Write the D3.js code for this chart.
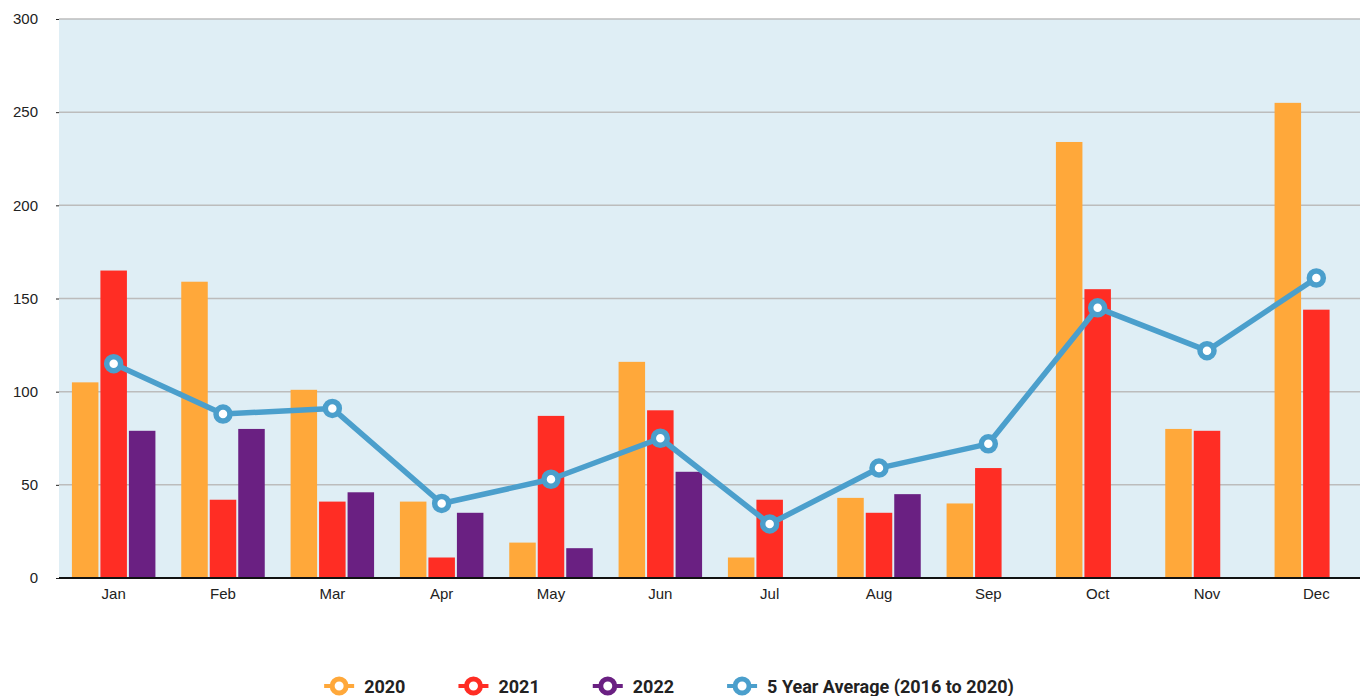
<!DOCTYPE html>
<meta charset="utf-8">
<style>
  body { margin: 0; background: #fff; }
  svg { display: block; font-family: "Liberation Sans", Arial, Helvetica, sans-serif; }
  .legend text { font-family: Roboto, "Noto Sans", sans-serif; font-weight: bold; font-size: 18px; fill: #222; }
</style>
<body>
<svg id="chart" width="1360" height="696"></svg>
<script src="https://d3js.org/d3.v7.min.js"></script>
<script>
// data
var months = ["Jan", "Feb", "Mar", "Apr", "May", "Jun", "Jul", "Aug", "Sep", "Oct", "Nov", "Dec"];
var seriesNames = ["2020", "2021", "2022"];
var values2020 = [105, 159, 101, 41, 19, 116, 11, 43, 40, 234, 80, 255];
var values2021 = [165, 42, 41, 11, 87, 90, 42, 35, 59, 155, 79, 144];
var values2022 = [79, 80, 46, 35, 16, 57, null, 45, null, null, null, null];
var avgName = "5 Year Average (2016 to 2020)";
var avgValues = [115, 88, 91, 40, 53, 75, 29, 59, 72, 145, 122, 161];
var yTicks = [0, 50, 100, 150, 200, 250, 300];

(function () {
  var colors = { "2020": "#ffa83a", "2021": "#ff2d24", "2022": "#6a2082" };
  var lineColor = "#4b9fcc";
  var seriesValues = [values2020, values2021, values2022];

  var svg = d3.select("#chart");
  var W = 1360;
  var mLeft = 59, mTop = 19, mBottom = 578;

  var x = d3.scaleBand().domain(months).range([mLeft, 1371]).padding(0);
  var x1 = d3.scaleBand().domain(seriesNames).range([-41.75, 41.75]).paddingInner(0.07);
  var y = d3.scaleLinear().domain([0, 300]).range([mBottom, mTop]);

  // plot background
  svg.append("rect")
    .attr("x", mLeft).attr("y", mTop)
    .attr("width", W - mLeft).attr("height", mBottom - mTop)
    .attr("fill", "#dfeef5");

  // gridlines
  svg.append("g").selectAll("line").data(yTicks.filter(function (d) { return d > 0; }))
    .enter().append("line")
    .attr("x1", mLeft).attr("x2", W)
    .attr("y1", function (d) { return y(d); }).attr("y2", function (d) { return y(d); })
    .attr("stroke", "#bcbcbc").attr("stroke-width", 1.5);

  // y axis
  var yAxis = svg.append("g")
    .attr("transform", "translate(" + mLeft + ",0)")
    .call(d3.axisLeft(y).tickValues(yTicks).tickSize(3).tickPadding(18));
  yAxis.select(".domain").remove();
  yAxis.selectAll(".tick line").attr("stroke", "#222");
  yAxis.selectAll(".tick text").attr("font-size", 15).attr("fill", "#222")
    .attr("font-family", "'Liberation Sans', Arial, sans-serif");

  // bars
  var groups = svg.append("g").selectAll("g").data(months).enter().append("g")
    .attr("transform", function (d) { return "translate(" + (x(d) + x.bandwidth() / 2) + ",0)"; });

  groups.selectAll("rect")
    .data(function (m, i) {
      return seriesNames.map(function (s, k) { return { key: s, value: seriesValues[k][i] }; })
        .filter(function (d) { return d.value != null; });
    })
    .enter().append("rect")
    .attr("x", function (d) { return x1(d.key); })
    .attr("width", x1.bandwidth())
    .attr("y", function (d) { return y(d.value); })
    .attr("height", function (d) { return y(0) - y(d.value); })
    .attr("fill", function (d) { return colors[d.key]; });

  // x axis
  var xAxis = svg.append("g")
    .attr("transform", "translate(0," + mBottom + ")")
    .call(d3.axisBottom(x).tickSize(0).tickPadding(10));
  xAxis.select(".domain").remove();
  xAxis.selectAll(".tick text").attr("font-size", 15).attr("fill", "#222")
    .attr("font-family", "'Liberation Sans', Arial, sans-serif");
  svg.append("line")
    .attr("x1", mLeft).attr("x2", W).attr("y1", mBottom).attr("y2", mBottom)
    .attr("stroke", "#111").attr("stroke-width", 2);

  // 5 year average line
  var line = d3.line()
    .x(function (d, i) { return x(months[i]) + x.bandwidth() / 2; })
    .y(function (d) { return y(d); });

  svg.append("path").datum(avgValues)
    .attr("d", line)
    .attr("fill", "none")
    .attr("stroke", lineColor)
    .attr("stroke-width", 5.5)
    .attr("stroke-linejoin", "round");

  svg.append("g").selectAll("circle").data(avgValues).enter().append("circle")
    .attr("cx", function (d, i) { return x(months[i]) + x.bandwidth() / 2; })
    .attr("cy", function (d) { return y(d); })
    .attr("r", 7)
    .attr("fill", "#fff")
    .attr("stroke", lineColor)
    .attr("stroke-width", 5.5);

  // legend
  var legendItems = seriesNames.map(function (s) { return { name: s, color: colors[s] }; })
    .concat([{ name: avgName, color: lineColor }]);

  var legend = svg.append("g").attr("class", "legend");
  var items = legend.selectAll("g").data(legendItems).enter().append("g");

  items.append("line")
    .attr("x1", -15).attr("x2", 15).attr("y1", 0).attr("y2", 0)
    .attr("stroke", function (d) { return d.color; }).attr("stroke-width", 4);
  items.append("circle")
    .attr("r", 7).attr("fill", "#fff")
    .attr("stroke", function (d) { return d.color; }).attr("stroke-width", 5);
  items.append("text")
    .attr("x", 25).attr("dy", "0.38em")
    .text(function (d) { return d.name; });

  var pos = 0, offsets = [];
  items.each(function () {
    offsets.push(pos);
    pos += 25 + this.querySelector("text").getComputedTextLength() + 68;
  });
  var totalW = pos - 68 + 15;
  var startX = 669 - totalW / 2 + 15;
  items.attr("transform", function (d, i) { return "translate(" + (startX + offsets[i]) + ",686)"; });
})();
</script>
</body>
